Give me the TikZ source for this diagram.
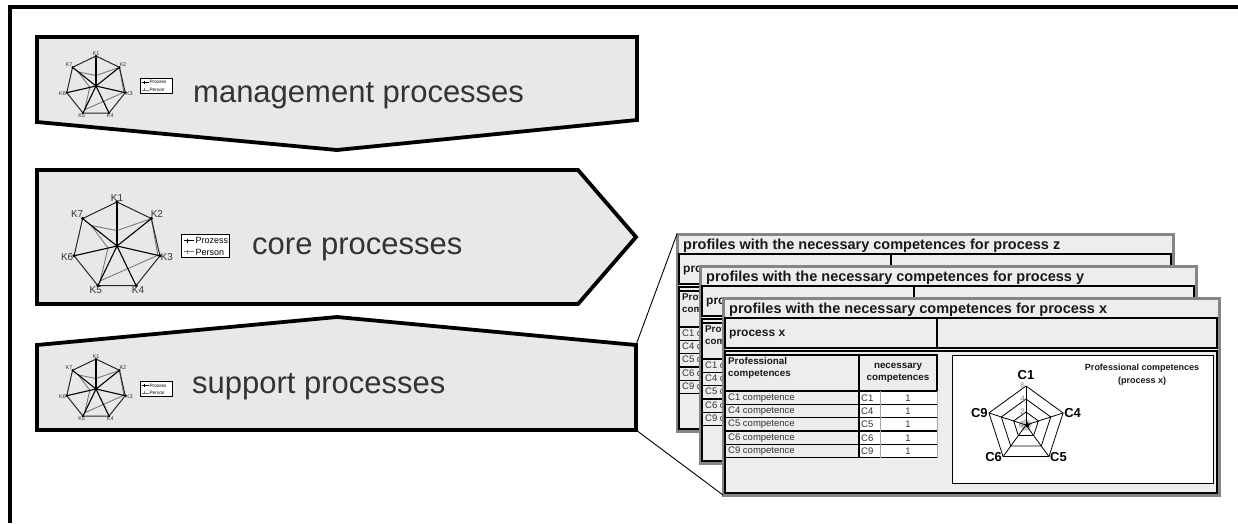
\documentclass[tikz,border=0pt]{standalone}
\usepackage{fontspec}
\setmainfont{Liberation Sans}
\usetikzlibrary{calc,shapes.geometric}
\definecolor{procfill}{HTML}{E8E8E8}
\definecolor{cardfill}{HTML}{EDEDED}
\definecolor{cardedge}{HTML}{858585}
\definecolor{txtgrey}{HTML}{333333}
\definecolor{perscol}{HTML}{7A7A7A}

% radar chart with K1..K7: prefix, cx, cy, r, label size, legend size
\newcommand\kchart[6]{%
  \coordinate (#1c) at (#2,#3);
  \foreach \i/\v in {1/0.35,2/1,3/0.95,4/0.57,5/0.88,6/0.21,7/0.75}{
    \pgfmathsetmacro\ang{90-(\i-1)*360/7}
    \pgfmathsetmacro\anc{270-(\i-1)*360/7}
    \coordinate (#1k\i) at ($(#1c)+(\ang:#4pt)$);
    \coordinate (#1p\i) at ($(#1c)+(\ang:\v*#4pt)$);
    \node[klabel, anchor=\anc, font=\fontsize{#5}{#5}\selectfont] (#1l\i) at (#1k\i) {K\i};
  }
  \draw[kpers] (#1p1) -- (#1p2) -- (#1p3) -- (#1p4) -- (#1p5) -- (#1p6) -- (#1p7) -- cycle;
  \foreach \i in {1,...,7}{ \draw[kspoke] (#1c) -- (#1k\i); }
  \draw[kpoly] (#1k1) -- (#1k2) -- (#1k3) -- (#1k4) -- (#1k5) -- (#1k6) -- (#1k7) -- cycle;
  \foreach \i in {1,...,7}{ \fill (#1k\i) circle (0.04*#4); }
  \draw[legbox] ($(#1c)+(1.47*#4,-0.26*#4)$) coordinate (#1lgA) rectangle ($(#1c)+(2.56*#4,0.26*#4)$) coordinate (#1lgB);
  \draw[black, line width=0.5pt] ($(#1c)+(1.52*#4,-0.12*#4)$) coordinate (#1m1a) -- ($(#1c)+(1.76*#4,-0.12*#4)$) coordinate (#1m1b);
  \draw[black, line width=0.5pt] ($(#1c)+(1.60*#4,-0.17*#4)$) -- ($(#1c)+(1.60*#4,-0.07*#4)$);
  \draw[perscol, line width=0.5pt] ($(#1c)+(1.52*#4,0.13*#4)$) coordinate (#1m2a) -- ($(#1c)+(1.76*#4,0.13*#4)$) coordinate (#1m2b);
  \draw[perscol, line width=0.5pt] ($(#1c)+(1.60*#4,0.08*#4)$) -- ($(#1c)+(1.60*#4,0.18*#4)$);
  \node[legtext, font=\fontsize{#6}{#6}\selectfont] (#1lg1) at ($(#1c)+(1.78*#4,-0.12*#4)$) {Prozess};
  \node[legtext, font=\fontsize{#6}{#6}\selectfont] (#1lg2) at ($(#1c)+(1.78*#4,0.14*#4)$) {Person};
}

% profile card: prefix, ox, oy, letter, front (1) or back (0)
\newcommand\profcard[5]{%
\begin{scope}[shift={(#2,#3)}]
  \draw[cardbox] (0,0) coordinate (#1tl) rectangle (496,197) coordinate (#1br);
  \coordinate (#1bl) at (0,197);
  \node[cardtitle] (#1title) at (6,12) {profiles with the necessary competences for process #4};
  \draw[blk] (2,20) rectangle (494,50);
  \draw[blk] (214,20) -- (214,50);
  \begin{scope}
  \ifnum#5=0 \clip (0,20) rectangle (24,197); \fi
  \node[proctitle] (#1proc) at (6,36) {process #4};
  \end{scope}
  \draw[blk] (2,53) rectangle (494,195);
  % table header
  \draw[blk] (2,57) rectangle (136,93);
  \draw[blk] (136,57) rectangle (214,93);
  \fill[white] (136,93) rectangle (214,159.5);
  \begin{scope}
  \ifnum#5=0 \clip (0,20) rectangle (22,197); \fi
  \node[hdrtext, anchor=north west, align=left] (#1h1) at (5,59) {Professional\\competences};
  \foreach \c [count=\n from 0] in {1,4,5,6,9}{
    \pgfmathsetmacro\ym{93+13.3*\n+6.9}
    \node[rowtext] (#1r\c) at (5,\ym) {C\c{} competence};
  }
  \end{scope}
  \foreach \c [count=\n from 0] in {1,4,5,6,9}{
    \pgfmathsetmacro\ya{93+13.3*\n}
    \draw[blk] (2,\ya+13.3) -- (214,\ya+13.3);
  }
  \draw[blk] (2,93) -- (214,93);
  \draw[blk] (2,93) -- (2,159.5);
  \draw[blk] (136,93) -- (136,159.5);
  \draw[thingrey] (157,93) -- (157,159.5);
  \draw[thingrey] (214,93) -- (214,159.5);
  \draw[chartbox] (229,57) rectangle (490,185);
  \ifnum#5=1
  \node[hdrtext, align=center] (#1h2) at (175,75) {necessary\\competences};
  \foreach \c [count=\n from 0] in {1,4,5,6,9}{
    \pgfmathsetmacro\ym{93+13.3*\n+6.9}
    \node[rowtext] (#1k\c) at (138,\ym) {C\c};
    \node[rowtext, anchor=center] (#1v\c) at (185,\ym) {1};
  }
  % chart
  \coordinate (#1rc) at (303,127);
  \foreach \i in {1,...,5}{
    \coordinate (#1a\i) at ($(#1rc)+({90-(\i-1)*72}:39pt)$);
    \coordinate (#1b\i) at ($(#1rc)+({90-(\i-1)*72}:26pt)$);
    \coordinate (#1d\i) at ($(#1rc)+({90-(\i-1)*72}:13pt)$);
    \coordinate (#1e\i) at ($(#1rc)+({90-(\i-1)*72}:6.5pt)$);
  }
  \fill[gray!45] (#1e1) -- (#1e2) -- (#1e3) -- (#1e4) -- (#1e5) -- cycle;
  \draw[radar] (#1a1) -- (#1a2) -- (#1a3) -- (#1a4) -- (#1a5) -- cycle;
  \draw[radar] (#1b1) -- (#1b2) -- (#1b3) -- (#1b4) -- (#1b5) -- cycle;
  \draw[radar] (#1d1) -- (#1d2) -- (#1d3) -- (#1d4) -- (#1d5) -- cycle;
  \foreach \i in {1,...,5}{ \draw[radar] (#1rc) -- (#1a\i); }
  \node[star, star points=5, star point ratio=2.2, fill=black, inner sep=0pt, minimum size=6pt] (#1st) at ($(#1rc)+(1.5,0)$) {};
  \node[axlab] (#1n6) at ($(#1rc)+(-1,-39)$) {6};
  \node[axlab] (#1n4) at ($(#1rc)+(-1,-26.5)$) {4};
  \node[axlab] (#1n2) at ($(#1rc)+(-1,-13.5)$) {2};
  \node[axlab] (#1n0) at ($(#1rc)+(-2.5,-0.5)$) {0};
  \node[clab, anchor=south] (#1c1) at ($(#1a1)+(0,-5)$) {C1};
  \node[clab, anchor=west] (#1c4) at (#1a2) {C4};
  \node[clab, anchor=west] (#1c5) at (#1a3) {C5};
  \node[clab, anchor=east] (#1c6) at (#1a4) {C6};
  \node[clab, anchor=east] (#1c9) at (#1a5) {C9};
  \node[ctitle] (#1ct) at (419,77) {Professional competences\\(process #4)};
  \fi
\end{scope}}

\begin{document}
\begin{tikzpicture}[x=1pt,y=-1pt,
  frame/.style={line width=4pt, draw=black},
  procshape/.style={draw=black, line width=3.8pt, fill=procfill, line join=miter},
  proctext/.style={anchor=base west, inner sep=0pt, text=txtgrey, font=\fontsize{31}{31}\selectfont},
  kpoly/.style={draw=black!85, line width=1pt},
  kspoke/.style={draw=black, line width=1.1pt},
  kpers/.style={draw=perscol, line width=0.9pt},
  klabel/.style={inner sep=0.6pt, text=txtgrey},
  legbox/.style={draw=black, line width=0.9pt, fill=white},
  legtext/.style={anchor=west, inner sep=0pt, text=black},
  leader/.style={draw=black, line width=0.9pt},
  cardbox/.style={draw=cardedge, line width=3pt, fill=cardfill},
  blk/.style={draw=black, line width=1.3pt},
  thingrey/.style={draw=gray!70, line width=0.5pt},
  cardtitle/.style={anchor=west, inner sep=0pt, text=black!90, font=\bfseries\fontsize{14.5}{14.5}\selectfont},
  proctitle/.style={anchor=west, inner sep=0pt, text=black!90, font=\bfseries\fontsize{12}{12}\selectfont},
  hdrtext/.style={inner sep=0pt, text=black!90, font=\bfseries\fontsize{9.8}{12.5}\selectfont},
  rowtext/.style={anchor=west, inner sep=0pt, text=txtgrey, font=\fontsize{9.5}{9.5}\selectfont},
  chartbox/.style={draw=black, line width=1pt, fill=white},
  radar/.style={draw=black, line width=0.8pt},
  axlab/.style={anchor=east, inner sep=0pt, text=gray, font=\fontsize{8}{8}\selectfont},
  clab/.style={inner sep=1pt, text=black, font=\bfseries\fontsize{13}{13}\selectfont},
  ctitle/.style={align=center, inner sep=0pt, text=black!90, font=\bfseries\fontsize{9}{13}\selectfont}
]
\useasboundingbox (0,0) rectangle (1238,523);
\fill[white] (0,0) rectangle (1238,523);
\draw[frame] (1238,7) -- (10,7) -- (10,523);

% management processes (chevron down)
\draw[procshape] (37,37) coordinate (mgTL) -- (637,37) coordinate (mgTR) -- (637,120) coordinate (mgBR)
  -- (337,150) coordinate (mgTip) -- (37,122) coordinate (mgBL) -- cycle;
\node[proctext] (mgtext) at (193,102) {management processes};
\kchart{mg}{96}{86}{30}{5.5}{4.7}

% core processes (arrow right)
\draw[procshape] (37,170) coordinate (coTL) -- (578,170) coordinate (coTR) -- (636,237) coordinate (coTip)
  -- (578,304) coordinate (coBR) -- (37,304) coordinate (coBL) -- cycle;
\node[proctext] (cotext) at (252,254) {core processes};
\kchart{co}{117}{246}{44}{10}{9}

% support processes (chevron up)
\draw[procshape] (37,345) coordinate (suTL) -- (337,317) coordinate (suTip) -- (636,345) coordinate (suTR)
  -- (636,430) coordinate (suBR) -- (37,430) coordinate (suBL) -- cycle;
\node[proctext] (sutext) at (192,393) {support processes};
\kchart{su}{96}{389}{30}{5.5}{4.7}

% profile cards
\profcard{pz}{677}{234}{z}{0}
\profcard{py}{700}{266}{y}{0}
\profcard{px}{723}{298}{x}{1}

% leader lines
\draw[leader] (suTR) -- (pztl);
\draw[leader] (suBR) -- (pxbl);
\end{tikzpicture}
\end{document}
